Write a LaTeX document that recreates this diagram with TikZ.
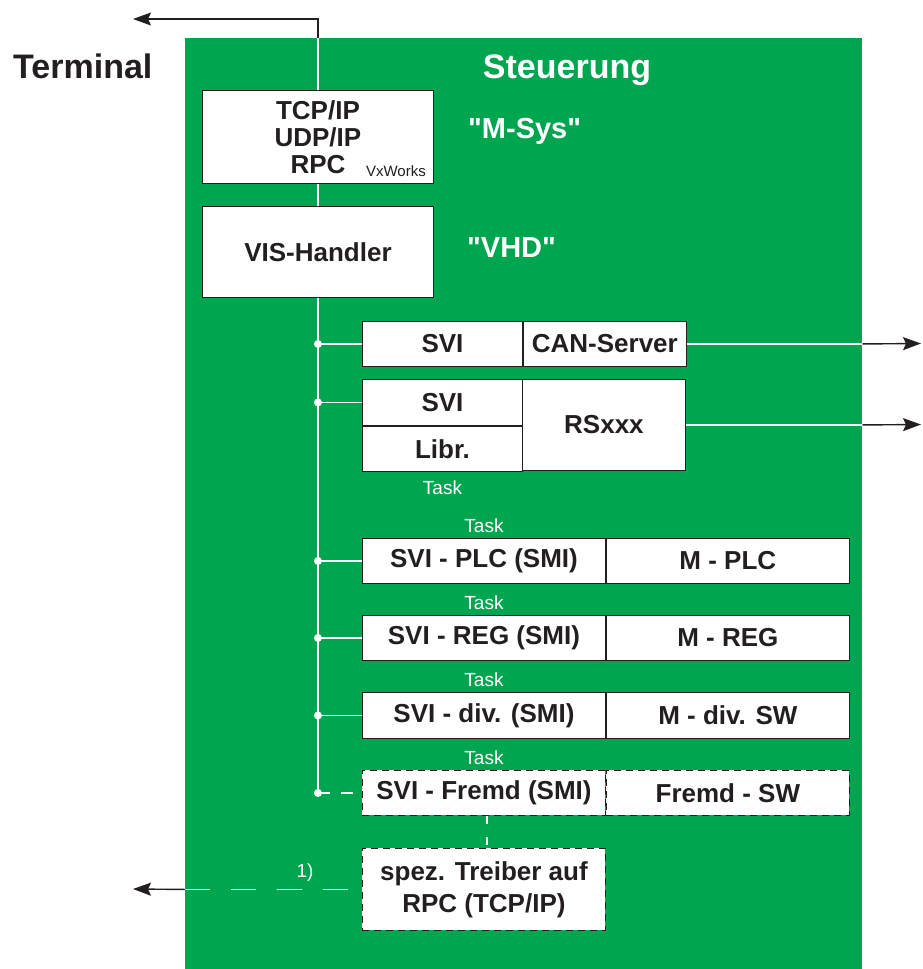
\documentclass[tikz,border=0pt]{standalone}
\usepackage{fontspec}
\setmainfont{Liberation Sans}[Ligatures=TeXOff]
\usepackage{xcolor}
\usetikzlibrary{positioning,calc,arrows.meta}
\definecolor{ctrlgreen}{RGB}{0,165,80}
\definecolor{inkgray}{RGB}{35,31,32}

\begin{document}
\begin{tikzpicture}[
    x=1pt, y=-1pt,
    box/.style={draw=inkgray, line width=0.9pt, fill=white, text=inkgray, align=center, inner sep=0pt,
        anchor=north west, font=\fontsize{26}{27}\selectfont\bfseries},
    extbox/.style={box, dash pattern=on 7pt off 5pt},
    wire/.style={draw=white, line width=1.5pt},
    arrow/.style={-{Stealth[length=18pt,width=13pt,inset=3pt]}, line width=1.4pt, draw=inkgray},
    tasklbl/.style={text=white, inner sep=0pt, font=\fontsize{19}{19}\selectfont},
    title/.style={inner sep=0pt, font=\fontsize{34}{34}\selectfont\bfseries},
    sysname/.style={text=white, inner sep=0pt, anchor=west, font=\fontsize{29}{29}\selectfont\bfseries},
    dot/.style={circle, fill=white, inner sep=0pt, minimum size=8pt}
]
\useasboundingbox (0,0) rectangle (922,969);
\node[fill=ctrlgreen, inner sep=0pt, anchor=north west, minimum width=677pt, minimum height=931pt] (ctrl) at (185,38) {};

\node[title, anchor=base west, text=inkgray] (term) at (13,78) {Terminal};
\node[title, anchor=base, text=white] (steu) at (567,78) {Steuerung};

\node[box, minimum width=231pt, minimum height=93pt] (tcp) at (202,90) {TCP/IP\\UDP/IP\\RPC};
\node[anchor=base east, inner sep=0pt, text=inkgray, font=\fontsize{15}{15}\selectfont] (vxw) at (426,176) {VxWorks};
\node[box, minimum width=231pt, minimum height=91pt] (vis) at (202,206) {VIS-Handler};
\node[sysname] (msys) at (468,131) {"M-Sys"};
\node[sysname] (vhd) at (467,248) {"VHD"};

\node[box, minimum width=160pt, minimum height=45pt] (svi1) at (362,321) {SVI};
\node[box, minimum width=163pt, minimum height=45pt, right=0pt of svi1] (cansrv) {CAN-Server};
\node[box, minimum width=160pt, minimum height=46pt] (svi2) at (362,379) {SVI};
\node[box, minimum width=160pt, minimum height=45pt, below=0pt of svi2] (libr) {Libr.};
\node[box, minimum width=163pt, minimum height=91pt] (rsxxx) at (522,379) {RSxxx};
\node[tasklbl, below=9pt of libr] (task0) {Task};

\node[box, minimum width=243pt, minimum height=45pt] (plc) at (362,538) {SVI - PLC (SMI)};
\node[box, minimum width=243pt, minimum height=45pt, right=0pt of plc] (mplc) {M - PLC};
\node[box, minimum width=243pt, minimum height=45pt] (reg) at (362,615) {SVI - REG (SMI)};
\node[box, minimum width=243pt, minimum height=45pt, right=0pt of reg] (mreg) {M - REG};
\node[box, minimum width=243pt, minimum height=46pt] (div) at (362,692) {SVI - div. (SMI)};
\node[box, minimum width=243pt, minimum height=46pt, right=0pt of div] (mdiv) {M - div. SW};
\node[extbox, minimum width=243pt, minimum height=45pt] (fremd) at (362,770) {SVI - Fremd (SMI)};
\node[extbox, minimum width=243pt, minimum height=45pt, right=0pt of fremd] (fremdsw) {Fremd - SW};
\node[extbox, minimum width=243pt, minimum height=82pt, font=\fontsize{26}{32}\selectfont\bfseries] (spez) at (362,848) {spez. Treiber auf\\RPC (TCP/IP)};

\foreach \n/\t in {plc/task1, reg/task2, div/task3, fremd/task4}
    \node[tasklbl, above=5pt of \n] (\t) {Task};

% bus up to the terminal
\coordinate (termout) at (133,19);
\coordinate (bustop) at (tcp.north |- ctrl.north);
\draw[wire] (tcp.north) -- (bustop);
\draw[arrow] (bustop) |- (termout);
\draw[wire] (tcp.south) -- (vis.north);

% internal bus
\coordinate (busend) at (vis.south |- fremd.west);
\draw[wire] (vis.south) -- (busend);
\foreach \n in {svi1, svi2, plc, reg, div} {
    \draw[wire] (vis.south |- \n.west) -- (\n.west);
    \node[dot] (dot-\n) at (vis.south |- \n.west) {};
}
\draw[wire, dash pattern=on 12pt off 11pt] (busend) -- (fremd.west);
\node[dot] (dot-fremd) at (busend) {};
\draw[wire, dash pattern=on 8pt off 13pt] ([xshift=3pt]fremd.south) -- ([xshift=3pt]spez.north);

% outputs to the right
\coordinate (canout) at (921,343.5);
\coordinate (rsout) at (921,424.5);
\draw[wire] (cansrv.east) -- (cansrv.east -| ctrl.east);
\draw[arrow] (cansrv.east -| ctrl.east) -- (canout);
\draw[wire] (rsxxx.east) -- (rsxxx.east -| ctrl.east);
\draw[arrow] (rsxxx.east -| ctrl.east) -- (rsout);

% foreign driver to the left
\coordinate (spezedge) at (ctrl.west |- spez.west);
\coordinate (spezout) at (133,889);
\draw[wire, dash pattern=on 25pt off 21pt] (spezedge) -- (spez.west);
\draw[arrow] (spezedge) -- (spezout);
\node[tasklbl] (note1) at (305,873) {1)};
\end{tikzpicture}
\end{document}
